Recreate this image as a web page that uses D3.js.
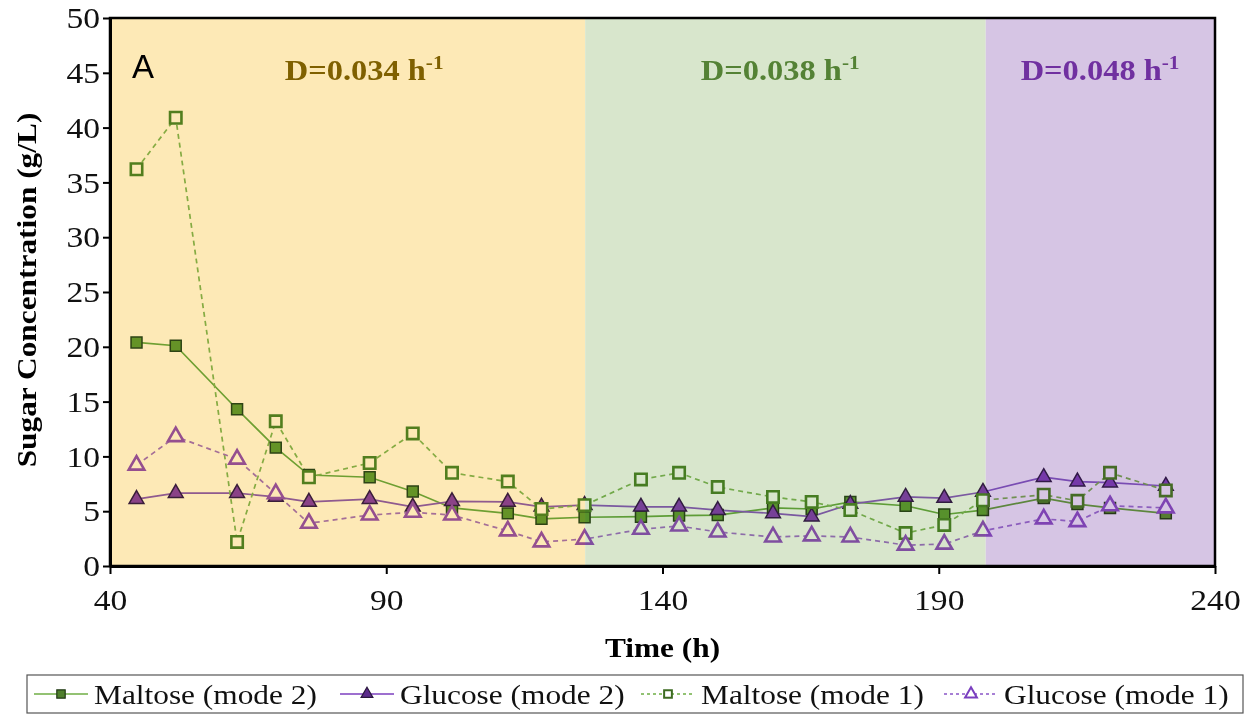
<!DOCTYPE html>
<html>
<head>
<meta charset="utf-8">
<script src="https://cdn.jsdelivr.net/npm/d3@7"></script>
<style>
  body { margin: 0; background: #fff; }
  svg { display: block; }
</style>
</head>
<body>
<script>
// Sampling times (h)
const time = [44.8, 51.9, 63, 70, 76, 87, 94.8, 101.9, 112, 118.1, 125.9, 136.1, 143, 150, 160, 167, 174, 184, 191, 198, 209, 215.1, 221, 231.1];
// Sugar concentrations (g/L)
const maltoseMode2 = [20.4, 20.1, 14.3, 10.8, 8.3, 8.1, 6.8, 5.3, 4.8, 4.3, 4.45, 4.5, 4.6, 4.65, 5.3, 5.2, 5.85, 5.5, 4.7, 5.1, 6.2, 5.65, 5.3, 4.8];
const glucoseMode2 = [6.1, 6.65, 6.65, 6.3, 5.85, 6.1, 5.4, 5.9, 5.85, 5.4, 5.55, 5.4, 5.4, 5.1, 4.8, 4.5, 5.65, 6.3, 6.2, 6.75, 8.1, 7.7, 7.6, 7.3];
const maltoseMode1 = [36.2, 40.9, 2.2, 13.2, 8.1, 9.4, 12.1, 8.5, 7.7, 5.2, 5.55, 7.9, 8.5, 7.2, 6.3, 5.85, 5.1, 3.0, 3.75, 6.0, 6.5, 5.95, 8.5, 6.9];
const glucoseMode1 = [9.2, 11.8, 9.75, 6.6, 3.9, 4.65, 4.9, 4.65, 3.2, 2.2, 2.45, 3.35, 3.65, 3.1, 2.65, 2.75, 2.65, 1.9, 2.0, 3.2, 4.3, 4.05, 5.5, 5.3];

// Dilution-rate phases
const phaseStart = [40, 126, 198.5];
const phaseEnd = [126, 198.5, 240];
const phaseRate = ["D=0.034 h", "D=0.038 h", "D=0.048 h"];
const phaseLabelX = [86, 161.3, 219.2];

const xTicks = [40, 90, 140, 190, 240];
const yTicks = [0, 5, 10, 15, 20, 25, 30, 35, 40, 45, 50];
const seriesNames = ["Maltose (mode 2)", "Glucose (mode 2)", "Maltose (mode 1)", "Glucose (mode 1)"];

const W = 1252, H = 719;
const plot = { left: 110, right: 1215, top: 18, bottom: 566 };
const serif = "'Liberation Serif', 'Times New Roman', serif";
const wide = 1.12; // horizontal stretch of the lettering

const phaseFill = ["#fde9b6", "#d8e6cc", "#d6c5e4"];
const phaseText = ["#7f6000", "#548235", "#7030a0"];

const x = d3.scaleLinear().domain([40, 240]).range([plot.left, plot.right]);
const y = d3.scaleLinear().domain([0, 50]).range([plot.bottom, plot.top]);

const svg = d3.select("body").append("svg").attr("width", W).attr("height", H);

// text placed at (px, py), widened along its baseline
function label(parent, px, py, rotate) {
  const g = parent.append("g")
    .attr("transform", `translate(${px},${py})${rotate ? ` rotate(${rotate})` : ""} scale(${wide},1)`);
  return g.append("text").attr("x", 0).attr("y", 0);
}

// phase backgrounds
svg.append("g").selectAll("rect").data(phaseStart).join("rect")
  .attr("x", (d) => x(d))
  .attr("y", plot.top)
  .attr("width", (d, i) => x(phaseEnd[i]) - x(d))
  .attr("height", plot.bottom - plot.top)
  .attr("fill", (d, i) => phaseFill[i]);

// series styles
const styles = [
  { values: maltoseMode2, line: "#6fae45", dash: null, shape: d3.symbolSquare, size: 120, fill: "#66a136", stroke: "#2e4a1b", sw: 1.5 },
  { values: glucoseMode2, line: "#9062c8", dash: null, shape: d3.symbolTriangle, size: 95, fill: "#8b48bd", stroke: "#3a2050", sw: 1.5 },
  { values: maltoseMode1, line: "#86bb5c", dash: "5,4", shape: d3.symbolSquare, size: 130, fill: "#ffffff", stroke: "#528a2a", sw: 2.6 },
  { values: glucoseMode1, line: "#a678d4", dash: "5,4", shape: d3.symbolTriangle, size: 105, fill: "#ffffff", stroke: "#9656c8", sw: 2.6 }
];

// data layer, blended so the phase tint colours the marks
const dataG = svg.append("g").style("mix-blend-mode", "multiply");

const line = d3.line().x((d) => x(d[0])).y((d) => y(d[1]));

styles.forEach((s) => {
  const pts = time.map((t, i) => [t, s.values[i]]);
  dataG.append("path")
    .attr("d", line(pts))
    .attr("fill", "none")
    .attr("stroke", s.line)
    .attr("stroke-width", 1.7)
    .attr("stroke-dasharray", s.dash);
});
styles.forEach((s) => {
  const pts = time.map((t, i) => [t, s.values[i]]);
  dataG.append("g").selectAll("path").data(pts).join("path")
    .attr("transform", (d) => `translate(${x(d[0])},${y(d[1])})`)
    .attr("d", d3.symbol().type(s.shape).size(s.size))
    .attr("fill", s.fill)
    .attr("stroke", s.stroke)
    .attr("stroke-width", s.sw);
});

// frame
svg.append("rect")
  .attr("x", plot.left).attr("y", plot.top)
  .attr("width", plot.right - plot.left).attr("height", plot.bottom - plot.top)
  .attr("fill", "none").attr("stroke", "#000").attr("stroke-width", 2.5);

// axes
const xAxis = svg.append("g")
  .attr("transform", `translate(0,${plot.bottom})`)
  .call(d3.axisBottom(x).tickValues(xTicks).tickSize(8).tickSizeOuter(0).tickFormat(d3.format("d")));
const yAxis = svg.append("g")
  .attr("transform", `translate(${plot.left},0)`)
  .call(d3.axisLeft(y).tickValues(yTicks).tickSize(7).tickSizeOuter(0).tickFormat(d3.format("d")));

[xAxis, yAxis].forEach((a) => {
  a.select(".domain").attr("stroke", "#000").attr("stroke-width", 3);
  a.selectAll(".tick line").attr("stroke", "#000").attr("stroke-width", 2);
  a.selectAll(".tick text")
    .attr("fill", "#111")
    .attr("transform", `scale(${wide},1)`)
    .style("font-family", serif)
    .style("font-size", "30px");
});
xAxis.selectAll(".tick text").attr("y", 23);
yAxis.selectAll(".tick text").attr("x", -10 / wide);

// axis titles
label(svg, (plot.left + plot.right) / 2, 657)
  .attr("text-anchor", "middle")
  .style("font-family", serif).style("font-size", "28px").style("font-weight", "bold")
  .text("Time (h)");
label(svg, 36, (plot.top + plot.bottom) / 2 - 2, -90)
  .attr("text-anchor", "middle")
  .style("font-family", serif).style("font-size", "28px").style("font-weight", "bold")
  .text("Sugar Concentration (g/L)");

// panel letter
svg.append("text")
  .attr("x", 132).attr("y", 78)
  .style("font-family", "'Liberation Sans', Arial, sans-serif").style("font-size", "33px")
  .text("A");

// phase labels
phaseRate.forEach((lab, i) => {
  const t = label(svg, x(phaseLabelX[i]), 80)
    .attr("text-anchor", "middle")
    .attr("fill", phaseText[i])
    .style("font-family", serif).style("font-size", "29px").style("font-weight", "bold");
  t.append("tspan").text(lab);
  t.append("tspan").attr("dy", -11).style("font-size", "19px").text("-1");
});

// legend
const legend = svg.append("g");
legend.append("rect")
  .attr("x", 27).attr("y", 675).attr("width", 1216).attr("height", 38)
  .attr("fill", "#fff").attr("stroke", "#555").attr("stroke-width", 1.2);

const legendX = [30, 336, 637, 940];
const legendStyles = [
  { line: "#6fae45", fill: "#4f7f2c", stroke: "#203815", dash: null, shape: d3.symbolSquare, size: 70, sw: 1.2 },
  { line: "#7c3fbf", fill: "#5b2a8c", stroke: "#2a173d", dash: null, shape: d3.symbolTriangle, size: 60, sw: 1.2 },
  { line: "#6fae45", fill: "#ffffff", stroke: "#3d6b22", dash: "3,3", shape: d3.symbolSquare, size: 60, sw: 2 },
  { line: "#8a55c8", fill: "#ffffff", stroke: "#7a3fbf", dash: "3,3", shape: d3.symbolTriangle, size: 60, sw: 2 }
];
seriesNames.forEach((name, i) => {
  const g = legend.append("g").attr("transform", `translate(${legendX[i]},694)`);
  const s = legendStyles[i];
  g.append("line").attr("x1", 4).attr("x2", 58).attr("y1", 0).attr("y2", 0)
    .attr("stroke", s.line).attr("stroke-width", 1.7).attr("stroke-dasharray", s.dash);
  g.append("path").attr("transform", "translate(31,0)")
    .attr("d", d3.symbol().type(s.shape).size(s.size))
    .attr("fill", s.fill).attr("stroke", s.stroke).attr("stroke-width", s.sw);
  label(g, 64, 10)
    .style("font-family", serif).style("font-size", "28px").attr("fill", "#111")
    .text(name);
});
</script>
</body>
</html>
